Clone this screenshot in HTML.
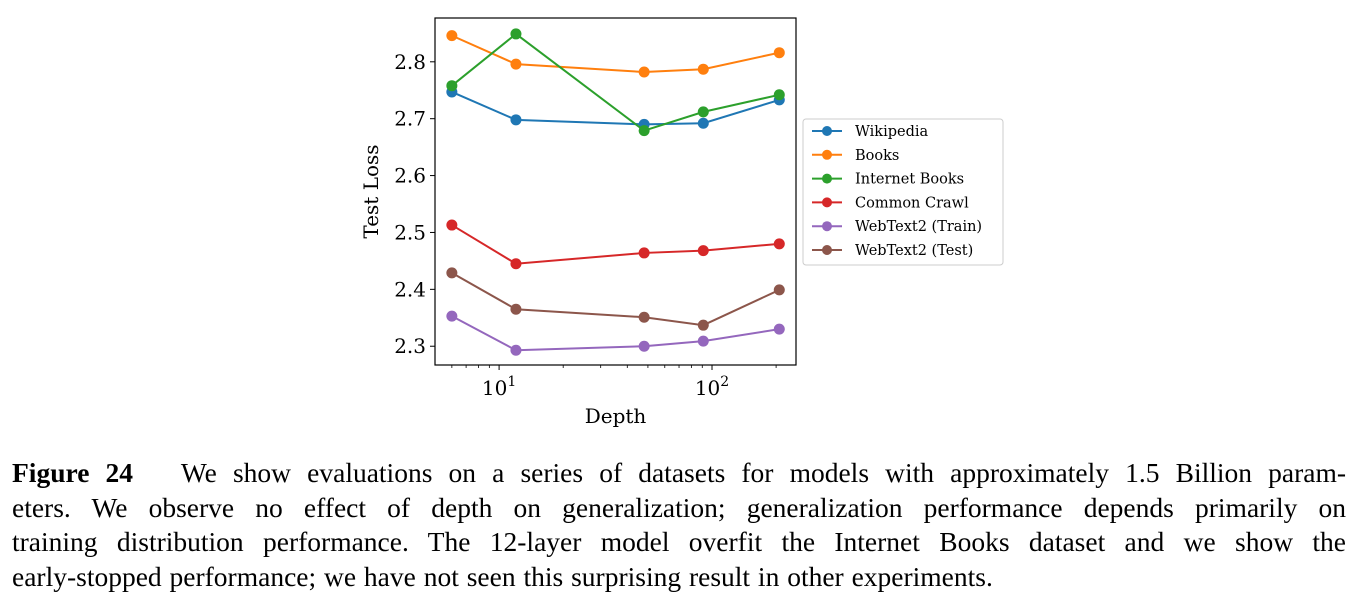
<!DOCTYPE html>
<html><head><meta charset="utf-8"><style>
body{margin:0;background:#fff;width:1354px;height:601px;overflow:hidden;position:relative}
#cap{position:absolute;left:12px;top:456px;width:1334px;font-family:"Liberation Serif",serif;font-size:27.5px;line-height:34.5px;color:#000;word-spacing:1px}
#cap div{white-space:nowrap;text-align:justify;text-align-last:justify}
#cap div.last{text-align-last:left}
</style></head><body>
<svg id="chart" width="1354" height="440" style="position:absolute;left:0;top:0" font-family="DejaVu Serif, serif"></svg>
<div id="cap">
<div><b>Figure 24</b>&nbsp;&nbsp; We show evaluations on a series of datasets for models with approximately 1.5 Billion param-</div>
<div>eters. We observe no effect of depth on generalization; generalization performance depends primarily on</div>
<div>training distribution performance. The 12-layer model overfit the Internet Books dataset and we show the</div>
<div class="last">early-stopped performance; we have not seen this surprising result in other experiments.</div>
</div>
<script>
const depths=[6,12,48,91,207];
const seriesNames=["Wikipedia","Books","Internet Books","Common Crawl","WebText2 (Train)","WebText2 (Test)"];
const colors=["#1f77b4","#ff7f0e","#2ca02c","#d62728","#9467bd","#8c564b"];
const wikipedia=[2.747,2.698,2.690,2.692,2.733];
const books=[2.846,2.796,2.782,2.787,2.816];
const internetBooks=[2.758,2.849,2.679,2.712,2.742];
const commonCrawl=[2.513,2.445,2.464,2.468,2.480];
const webtextTrain=[2.353,2.293,2.300,2.309,2.330];
const webtextTest=[2.429,2.365,2.351,2.337,2.399];
const yTicks=[2.3,2.4,2.5,2.6,2.7,2.8];
const allSeries=[wikipedia,books,internetBooks,commonCrawl,webtextTrain,webtextTest];
const L=435,R=796,T=18,B=365,xmin=5.0,xmax=248,ymin=2.267,ymax=2.877;
const X=v=>L+(Math.log10(v)-Math.log10(xmin))/(Math.log10(xmax)-Math.log10(xmin))*(R-L);
const Y=v=>B-(v-ymin)/(ymax-ymin)*(B-T);
const svg=document.getElementById('chart');const NS="http://www.w3.org/2000/svg";
function mk(t,a,p){const e=document.createElementNS(NS,t);for(const k in a)e.setAttribute(k,a[k]);(p||svg).appendChild(e);return e;}
yTicks.forEach(v=>{
 const l=mk('line',{x1:L-5,x2:L,y1:Y(v),y2:Y(v),stroke:'#000','stroke-width':1});
 
 
 const t=mk('text',{x:L-9,y:Y(v)+7,'text-anchor':'end','font-size':20});t.textContent=v.toFixed(1);
 
 
});
[6,7,8,9,20,30,40,50,60,70,80,90,200].forEach(v=>{
 const l=mk('line',{x1:X(v),x2:X(v),y1:B,y2:B+3,stroke:'#000','stroke-width':0.8});
 
 
});
[[10,'1'],[100,'2']].forEach(([v,e])=>{
 mk('line',{x1:X(v),x2:X(v),y1:B,y2:B+5,stroke:'#000','stroke-width':1});
 const t=mk('text',{x:X(v),y:B+30,'text-anchor':'middle','font-size':20});
 t.innerHTML='10<tspan dy="-9" font-size="14">'+e+'</tspan>';
 
 
});
allSeries.forEach((s,i)=>{
 const g=mk('g',{});
 
 
 mk('polyline',{points:s.map((v,j)=>X(depths[j])+','+Y(v)).join(' '),fill:'none',stroke:colors[i],'stroke-width':2},g);
 s.forEach((v,j)=>{const c=mk('circle',{cx:X(depths[j]),cy:Y(v),r:5.5,fill:colors[i]},g);
  
  });
});
const frame=mk('rect',{x:L,y:T,width:R-L,height:B-T,fill:'none',stroke:'#000','stroke-width':1.2});


const xt=mk('text',{x:(L+R)/2,y:423,'text-anchor':'middle','font-size':20});xt.textContent='Depth';


const yt=mk('text',{x:378,y:(T+B)/2,'text-anchor':'middle','font-size':20,transform:'rotate(-90 378 '+(T+B)/2+')'});yt.textContent='Test Loss';


const lg=mk('g',{});


mk('rect',{x:803,y:119,width:200,height:146,rx:3,fill:'#fff',stroke:'#ccc','stroke-width':1},lg);
seriesNames.forEach((n,i)=>{
 const y=131+i*23.8;
 const e=mk('g',{},lg);
 
 
 mk('line',{x1:812,x2:842,y1:y,y2:y,stroke:colors[i],'stroke-width':2},e);
 mk('circle',{cx:827,cy:y,r:5,fill:colors[i]},e);
 const t=mk('text',{x:855,y:y+5,'font-size':14.5},e);t.textContent=n;
});
</script>
</body></html>
